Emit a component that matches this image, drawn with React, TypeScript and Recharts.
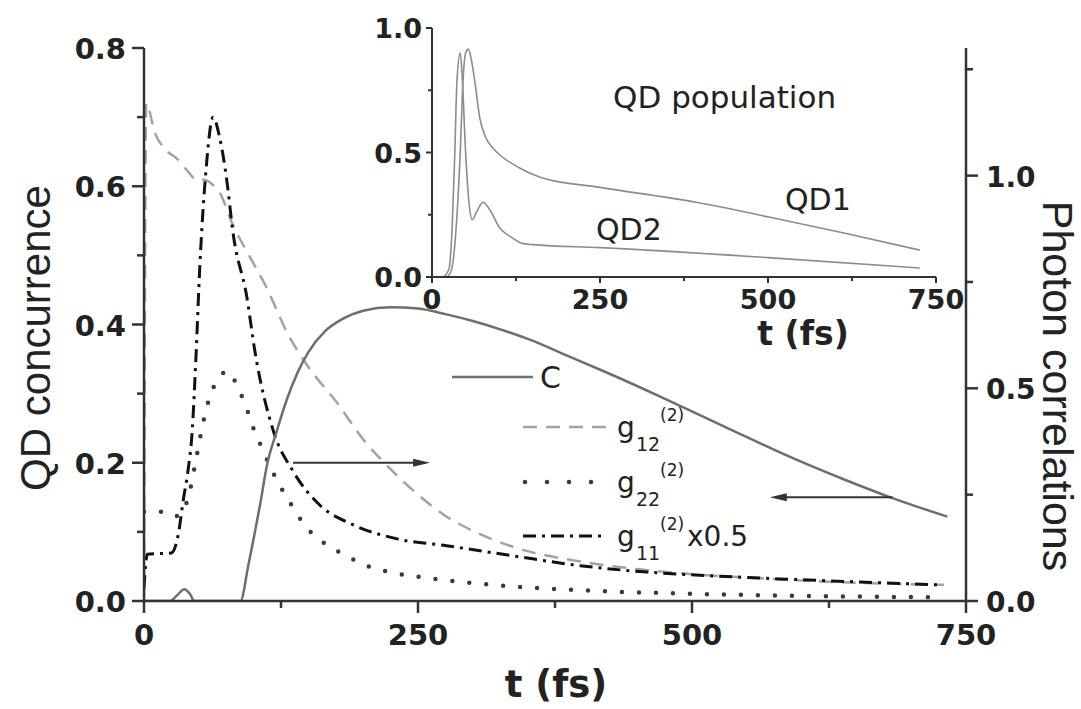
import React from 'react';
import { LineChart, Line, XAxis, YAxis, ReferenceLine } from 'recharts';

// ---------- data ----------
const cTime = [0, 24, 30, 37, 42, 46, 88, 95, 100, 106, 112, 121, 130, 140, 150, 165, 180, 200, 225, 250, 275, 300, 325, 352, 386, 420, 472, 530, 590, 640, 681, 733];
const cValue = [0, 0, 0.008, 0.017, 0.01, 0, 0, 0.05, 0.09, 0.14, 0.195, 0.245, 0.29, 0.33, 0.36, 0.39, 0.407, 0.42, 0.425, 0.423, 0.415, 0.405, 0.393, 0.378, 0.355, 0.332, 0.295, 0.252, 0.208, 0.175, 0.15, 0.122];

const g12Time = [0, 2, 10, 20, 30, 40, 48, 55, 62, 69, 81, 97, 112, 130, 150, 175, 200, 225, 250, 275, 300, 337, 400, 450, 500, 550, 600, 650, 730];
const g12Value = [0.0, 1.17, 1.1, 1.06, 1.04, 1.01, 0.99, 0.99, 0.98, 0.96, 0.885, 0.807, 0.736, 0.634, 0.55, 0.47, 0.38, 0.31, 0.25, 0.2, 0.165, 0.127, 0.092, 0.075, 0.063, 0.055, 0.048, 0.043, 0.038];

const g22Time = [0, 22, 30, 40, 48, 54, 60, 66, 76, 86, 94, 100, 108, 115, 124, 135, 147, 163, 185, 203, 224, 250, 300, 350, 400, 500, 600, 720];
const g22Value = [0.21, 0.21, 0.2, 0.24, 0.34, 0.42, 0.48, 0.515, 0.54, 0.5, 0.45, 0.405, 0.358, 0.316, 0.271, 0.224, 0.177, 0.139, 0.106, 0.083, 0.068, 0.057, 0.042, 0.032, 0.025, 0.017, 0.012, 0.009];

const g11Time = [0, 3, 25, 31, 36, 40, 44, 47, 51, 57, 63, 69, 76, 81, 94, 101, 118, 136, 161, 190, 231, 276, 337, 398, 459, 519, 580, 650, 725];
const g11Value = [0.03, 0.11, 0.113, 0.153, 0.24, 0.304, 0.4, 0.55, 0.79, 1.026, 1.137, 1.09, 0.98, 0.87, 0.712, 0.59, 0.4, 0.305, 0.224, 0.18, 0.146, 0.13, 0.106, 0.083, 0.068, 0.059, 0.052, 0.045, 0.038];

const qd1Time = [0, 20, 28, 36, 42, 46, 50, 54, 58, 64, 71, 80, 90, 101, 129, 162, 250, 393, 503, 613, 726];
const qd1Value = [0, 0, 0.02, 0.2, 0.5, 0.78, 0.9, 0.915, 0.88, 0.78, 0.64, 0.56, 0.52, 0.49, 0.44, 0.4, 0.36, 0.3, 0.24, 0.177, 0.108];

const qd2Time = [0, 15, 25, 30, 34, 37, 42, 45, 50, 55, 60, 66, 76, 86, 100, 118, 134, 150, 250, 500, 726];
const qd2Value = [0, 0, 0.03, 0.2, 0.5, 0.78, 0.9, 0.8, 0.5, 0.3, 0.23, 0.26, 0.3, 0.27, 0.2, 0.16, 0.135, 0.13, 0.118, 0.078, 0.036];

const mainXTicks = [0, 125, 250, 375, 500, 625, 750];
const mainXMajor = [0, 250, 500, 750];
const leftTicks = [0, 0.1, 0.2, 0.3, 0.4, 0.5, 0.6, 0.7, 0.8];
const leftMajor = [0, 0.2, 0.4, 0.6, 0.8];
const rightTicks = [0, 0.25, 0.5, 0.75, 1.0, 1.25];
const rightMajor = [0, 0.5, 1.0];
const insetXTicks = [0, 125, 250, 375, 500, 625, 750];
const insetXMajor = [0, 250, 500, 750];
const insetYTicks = [0, 0.25, 0.5, 0.75, 1.0];
const insetYMajor = [0, 0.5, 1.0];

const zip = (ts: number[], vs: number[]) => ts.map((t, i) => ({ t, v: vs[i] }));
const cData = zip(cTime, cValue);
const g12Data = zip(g12Time, g12Value);
const g22Data = zip(g22Time, g22Value);
const g11Data = zip(g11Time, g11Value);
const qd1Data = zip(qd1Time, qd1Value);
const qd2Data = zip(qd2Time, qd2Value);

// ---------- styles ----------
const TICK_FONT = '"DejaVu Sans", sans-serif';
const TITLE_FONT = '"Liberation Sans", Arial, sans-serif';
const AXIS = '#333';
const TXT = '#222';
const C_COLOR = '#6e6e6e';
const G12_COLOR = '#a3a3a3';
const G22_COLOR = '#3a3a3a';
const G11_COLOR = '#111';
const QD_COLOR = '#8c8c8c';

const near = (a: number, list: number[]) => list.some((b) => Math.abs(a - b) < 1e-6);

const M_TS = 12;
const M_TM = 6;
const R_TM = 8;
const I_TS = 6;
const I_TM = 4;

const MainXTick = (p: any) => {
  const { x, y, payload } = p;
  const ay = y - M_TS - M_TM;
  const major = near(payload.value, mainXMajor);
  return (
    <g>
      <line x1={x} x2={x} y1={ay} y2={ay + (major ? 12 : 7)} stroke={AXIS} strokeWidth={2.5} />
      {major && (
        <text x={x} y={y + 26} textAnchor="middle" fontSize={29} fontWeight="bold" fontFamily={TICK_FONT} fill={TXT}>
          {payload.value}
        </text>
      )}
    </g>
  );
};

const LeftTick = (p: any) => {
  const { x, y, payload } = p;
  const ax = x + M_TS + M_TM;
  const major = near(payload.value, leftMajor);
  return (
    <g>
      <line x1={ax} x2={ax - (major ? 12 : 7)} y1={y} y2={y} stroke={AXIS} strokeWidth={2.5} />
      {major && (
        <text x={x} y={y + 11} textAnchor="end" fontSize={29} fontWeight="bold" fontFamily={TICK_FONT} fill={TXT}>
          {payload.value.toFixed(1)}
        </text>
      )}
    </g>
  );
};

const RightTick = (p: any) => {
  const { x, y, payload } = p;
  const ax = x - M_TS - R_TM;
  const major = near(payload.value, rightMajor);
  return (
    <g>
      <line x1={ax} x2={ax + (major ? 12 : 7)} y1={y} y2={y} stroke={AXIS} strokeWidth={2.5} />
      {major && (
        <text x={x} y={y + 11} textAnchor="start" fontSize={28} fontWeight="bold" fontFamily={TICK_FONT} fill={TXT}>
          {payload.value.toFixed(1)}
        </text>
      )}
    </g>
  );
};

const InsetXTick = (p: any) => {
  const { x, y, payload } = p;
  const ay = y - I_TS - I_TM;
  const major = near(payload.value, insetXMajor);
  return (
    <g>
      <line x1={x} x2={x} y1={ay} y2={ay + (major ? 6 : 4)} stroke={AXIS} strokeWidth={2} />
      {major && (
        <text x={x} y={y + 22} textAnchor="middle" fontSize={27} fontWeight="bold" fontFamily={TICK_FONT} fill={TXT}>
          {payload.value}
        </text>
      )}
    </g>
  );
};

const InsetYTick = (p: any) => {
  const { x, y, payload } = p;
  const ax = x + I_TS + I_TM;
  const major = near(payload.value, insetYMajor);
  return (
    <g>
      <line x1={ax} x2={ax - (major ? 6 : 4)} y1={y} y2={y} stroke={AXIS} strokeWidth={2} />
      {major && (
        <text x={x} y={y + 10} textAnchor="end" fontSize={27} fontWeight="bold" fontFamily={TICK_FONT} fill={TXT}>
          {payload.value.toFixed(1)}
        </text>
      )}
    </g>
  );
};

const ArrowShape = (dir: 'right' | 'left') => (p: any) => {
  const { x1, y1, x2, y2 } = p;
  const tipX = dir === 'right' ? Math.max(x1, x2) : Math.min(x1, x2);
  const tailX = dir === 'right' ? Math.min(x1, x2) : Math.max(x1, x2);
  const y = (y1 + y2) / 2;
  const s = dir === 'right' ? -1 : 1;
  return (
    <g>
      <line x1={tailX} y1={y} x2={tipX + s * 10} y2={y} stroke={AXIS} strokeWidth={2} />
      <polygon points={`${tipX},${y} ${tipX + s * 17},${y - 4} ${tipX + s * 17},${y + 4}`} fill={AXIS} />
    </g>
  );
};

const rightArrow = [{ x: 136, y: 0.2 }, { x: 261, y: 0.2 }];
const leftArrow = [{ x: 571, y: 0.15 }, { x: 683, y: 0.15 }];

export default function App() {
  return (
    <div style={{ position: 'absolute', left: 0, top: 0, width: 1081, height: 709, background: '#fff', overflow: 'hidden' }}>
      {/* main chart */}
      <div style={{ position: 'absolute', left: 0, top: 0 }}>
        <LineChart width={1081} height={709} margin={{ top: 48, right: 55, bottom: 78, left: 84 }}>
          <XAxis
            dataKey="t"
            type="number"
            domain={[0, 750]}
            ticks={mainXTicks}
            interval={0}
            allowDataOverflow
            height={30}
            tickSize={M_TS}
            tickMargin={M_TM}
            tickLine={false}
            axisLine={{ stroke: AXIS, strokeWidth: 2.5 }}
            tick={MainXTick}
          />
          <YAxis
            yAxisId="left"
            orientation="left"
            type="number"
            domain={[0, 0.8]}
            ticks={leftTicks}
            interval={0}
            allowDataOverflow
            width={60}
            tickSize={M_TS}
            tickMargin={M_TM}
            tickLine={false}
            axisLine={{ stroke: AXIS, strokeWidth: 2.5 }}
            tick={LeftTick}
          />
          <YAxis
            yAxisId="right"
            orientation="right"
            type="number"
            domain={[0, 1.3]}
            ticks={rightTicks}
            interval={0}
            allowDataOverflow
            width={60}
            tickSize={M_TS}
            tickMargin={R_TM}
            tickLine={false}
            axisLine={{ stroke: AXIS, strokeWidth: 2.5 }}
            tick={RightTick}
          />
          <Line yAxisId="right" data={g12Data} dataKey="v" type="monotone" stroke={G12_COLOR} strokeWidth={2.5} strokeDasharray="14 9" dot={false} isAnimationActive={false} />
          <Line yAxisId="right" data={g22Data} dataKey="v" type="monotone" stroke={G22_COLOR} strokeWidth={4.5} strokeLinecap="round" strokeDasharray="0 17" dot={false} isAnimationActive={false} />
          <Line yAxisId="right" data={g11Data} dataKey="v" type="monotone" stroke={G11_COLOR} strokeWidth={3} strokeDasharray="13 6 3 6" dot={false} isAnimationActive={false} />
          <Line yAxisId="left" data={cData} dataKey="v" type="monotone" stroke={C_COLOR} strokeWidth={2.5} dot={false} isAnimationActive={false} />
          <ReferenceLine yAxisId="left" segment={rightArrow} shape={ArrowShape('right')} />
          <ReferenceLine yAxisId="left" segment={leftArrow} shape={ArrowShape('left')} />
        </LineChart>
      </div>

      {/* inset chart */}
      <div style={{ position: 'absolute', left: 372, top: 0 }}>
        <LineChart width={600} height={340} margin={{ top: 28, right: 36, bottom: 33, left: 10 }}>
          <XAxis
            dataKey="t"
            type="number"
            domain={[0, 750]}
            ticks={insetXTicks}
            interval={0}
            allowDataOverflow
            height={30}
            tickSize={I_TS}
            tickMargin={I_TM}
            tickLine={false}
            axisLine={{ stroke: AXIS, strokeWidth: 2 }}
            tick={InsetXTick}
          />
          <YAxis
            type="number"
            domain={[0, 1]}
            ticks={insetYTicks}
            interval={0}
            allowDataOverflow
            width={50}
            tickSize={I_TS}
            tickMargin={I_TM}
            tickLine={false}
            axisLine={{ stroke: AXIS, strokeWidth: 2 }}
            tick={InsetYTick}
          />
          <Line data={qd1Data} dataKey="v" type="monotone" stroke={QD_COLOR} strokeWidth={1.6} dot={false} isAnimationActive={false} />
          <Line data={qd2Data} dataKey="v" type="monotone" stroke={QD_COLOR} strokeWidth={1.6} dot={false} isAnimationActive={false} />
        </LineChart>
      </div>

      {/* titles, inset labels and legend */}
      <svg width={1081} height={709} style={{ position: 'absolute', left: 0, top: 0, pointerEvents: 'none' }}>
        <text transform="translate(50,338) rotate(-90)" textAnchor="middle" fontSize={42} fontFamily={TITLE_FONT} fill={TXT}>
          QD concurrence
        </text>
        <text transform="translate(1043,386) rotate(90)" textAnchor="middle" fontSize={43} fontFamily={TITLE_FONT} fill={TXT}>
          Photon correlations
        </text>
        <text x={556} y={697} textAnchor="middle" fontSize={37} fontWeight="bold" fontFamily={TICK_FONT} fill={TXT}>
          t (fs)
        </text>

        <text x={803} y={345} textAnchor="middle" fontSize={33} fontWeight="bold" fontFamily={TICK_FONT} fill={TXT}>
          t (fs)
        </text>
        <text x={613} y={108} fontSize={31} fontFamily={TICK_FONT} fill={TXT}>
          QD population
        </text>
        <text x={785} y={210} fontSize={30} fontFamily={TICK_FONT} fill={TXT}>
          QD1
        </text>
        <text x={596} y={240} fontSize={30} fontFamily={TICK_FONT} fill={TXT}>
          QD2
        </text>

        {/* legend */}
        <line x1={452} x2={533} y1={377} y2={377} stroke={C_COLOR} strokeWidth={2.5} />
        <text x={540} y={388} fontSize={30} fontFamily={TICK_FONT} fill={TXT}>C</text>

        <line x1={523} x2={607} y1={427} y2={427} stroke={G12_COLOR} strokeWidth={2.5} strokeDasharray="14 9" />
        <text x={617} y={437} fontSize={28} fontFamily={TICK_FONT} fill={TXT}>g</text>
        <text x={636} y={451} fontSize={19} fontFamily={TICK_FONT} fill={TXT}>12</text>
        <text x={660} y={421} fontSize={17} fontFamily={TICK_FONT} fill={TXT}>(2)</text>

        <line x1={525} x2={605} y1={482} y2={482} stroke={G22_COLOR} strokeWidth={4.5} strokeLinecap="round" strokeDasharray="0 22" />
        <text x={617} y={492} fontSize={28} fontFamily={TICK_FONT} fill={TXT}>g</text>
        <text x={636} y={506} fontSize={19} fontFamily={TICK_FONT} fill={TXT}>22</text>
        <text x={660} y={476} fontSize={17} fontFamily={TICK_FONT} fill={TXT}>(2)</text>

        <line x1={523} x2={607} y1={536} y2={536} stroke={G11_COLOR} strokeWidth={3} strokeDasharray="13 6 3 6" />
        <text x={617} y={546} fontSize={28} fontFamily={TICK_FONT} fill={TXT}>g</text>
        <text x={636} y={560} fontSize={19} fontFamily={TICK_FONT} fill={TXT}>11</text>
        <text x={660} y={530} fontSize={17} fontFamily={TICK_FONT} fill={TXT}>(2)</text>
        <text x={687} y={546} fontSize={28} fontFamily={TICK_FONT} fill={TXT}>x0.5</text>
      </svg>
    </div>
  );
}
